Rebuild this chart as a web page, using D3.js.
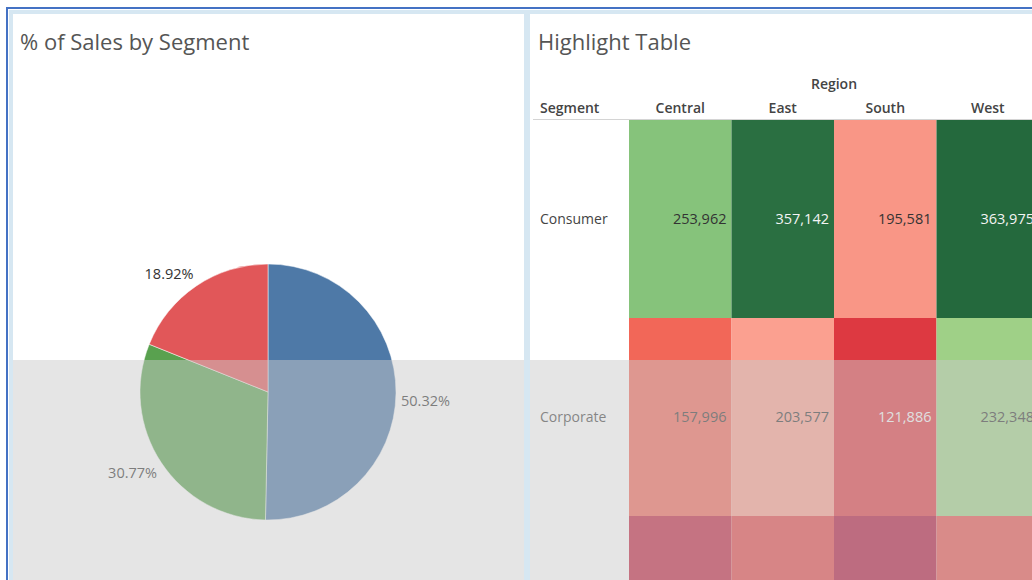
<!DOCTYPE html>
<html lang="en">
<head>
<meta charset="UTF-8">
<title>% of Sales by Segment / Highlight Table</title>
<script src="https://d3js.org/d3.v7.min.js"></script>
<style>
    body { margin: 0; background: #fff; }
    svg { display: block; font-family: "Open Sans", "Noto Sans", sans-serif; }
    .title { font-size: 22px; fill: #555; }
    .hdr { font-size: 14px; font-weight: 600; fill: #444; }
    .rowlbl { font-size: 14px; fill: #444; }
    .num { font-size: 14.5px; }
    .pct { font-size: 14.5px; fill: #333; }
</style>
</head>
<body>
<div id="chart"></div>
<script>
// segment share of sales (pie)
const pieSegments = ["Consumer", "Corporate", "Home Office"];
const pieShares = [50.32, 30.77, 18.92];
const pieColors = ["#4e79a7", "#59a14f", "#e15759"];

// highlight table
const regions = ["Central", "East", "South", "West"];
const segments = ["Consumer", "Corporate", "Home Office"];
const salesConsumer = [253962, 357142, 195581, 363975];
const salesCorporate = [157996, 203577, 121886, 232348];
const salesHomeOffice = [93000, 131000, 76000, 140000]; // row is off-screen, estimated

const width = 1032, height = 580;

const svg = d3.select("#chart").append("svg")
    .attr("width", width)
    .attr("height", height);

// ---- frame
svg.append("rect").attr("x", 9).attr("y", 10).attr("width", width - 9).attr("height", 4).attr("fill", "#d6e7f2");
svg.append("rect").attr("x", 9).attr("y", 10).attr("width", 4).attr("height", height - 10).attr("fill", "#d6e7f2");

// ---- left panel: pie
svg.append("text").attr("class", "title").attr("x", 20).attr("y", 50).text("% of Sales by Segment");

const cx = 268, cy = 392, radius = 128;
const pie = d3.pie().sort(null).value(d => d.value);
const arcs = pie(pieSegments.map((s, i) => ({ name: s, value: pieShares[i], color: pieColors[i] })));
const arc = d3.arc().innerRadius(0).outerRadius(radius);
const labelArc = d3.arc().innerRadius(radius + 5).outerRadius(radius + 5);

const pieG = svg.append("g").attr("transform", `translate(${cx},${cy})`);
pieG.selectAll("path")
    .data(arcs)
    .enter()
    .append("path")
    .attr("d", arc)
    .attr("fill", d => d.data.color)
    .attr("stroke", "#fff")
    .attr("stroke-width", 0.5);

// label sits with its near corner at the slice edge
pieG.selectAll("text")
    .data(arcs)
    .enter()
    .append("text")
    .attr("class", "pct")
    .attr("x", d => labelArc.centroid(d)[0])
    .attr("y", d => {
        const p = labelArc.centroid(d);
        return p[1] < 0 ? p[1] - 3 : p[1] + 13;
    })
    .attr("text-anchor", d => labelArc.centroid(d)[0] > 0 ? "start" : "end")
    .text(d => d.data.value.toFixed(2) + "%");

// ---- right panel: highlight table
svg.append("text").attr("class", "title").attr("x", 538).attr("y", 50).text("Highlight Table");

const tableRows = [salesConsumer, salesCorporate, salesHomeOffice];
const cells = [];
tableRows.forEach((row, r) => row.forEach((v, c) => cells.push({ seg: segments[r], region: regions[c], value: v })));

const x = d3.scaleBand().domain(regions).range([629, 1039]);
const y = d3.scaleBand().domain(segments).range([120, 714]);

const ext = d3.extent(cells, d => d.value);
const stops = [0, 0.17, 0.3, 0.45, 0.55, 1].map(t => ext[0] + t * (ext[1] - ext[0]));
const color = d3.scaleLinear()
    .domain(stops)
    .range(["#b0133a", "#e03c42", "#f46d5b", "#fba393", "#98d386", "#24693d"])
    .clamp(true);

svg.append("text").attr("class", "hdr").attr("x", (x.range()[0] + x.range()[1]) / 2).attr("y", 89)
    .attr("text-anchor", "middle").text("Region");
svg.append("text").attr("class", "hdr").attr("x", 540).attr("y", 113).text("Segment");
svg.selectAll(".colhdr")
    .data(regions)
    .enter()
    .append("text")
    .attr("class", "hdr colhdr")
    .attr("x", d => x(d) + x.bandwidth() / 2)
    .attr("y", 113)
    .attr("text-anchor", "middle")
    .text(d => d);
svg.append("line").attr("x1", 533).attr("x2", width).attr("y1", 119.5).attr("y2", 119.5)
    .attr("stroke", "#d4d4d4").attr("stroke-width", 1);

svg.selectAll(".cell")
    .data(cells)
    .enter()
    .append("rect")
    .attr("class", "cell")
    .attr("x", d => x(d.region))
    .attr("y", d => y(d.seg))
    .attr("width", x.bandwidth())
    .attr("height", y.bandwidth())
    .attr("fill", d => color(d.value));

// only labels that fall inside the visible window
const visible = d => y(d.seg) + y.bandwidth() / 2 < height;

svg.selectAll(".num")
    .data(cells.filter(visible))
    .enter()
    .append("text")
    .attr("class", "num")
    .attr("x", d => x(d.region) + x.bandwidth() - 5)
    .attr("y", d => y(d.seg) + y.bandwidth() / 2 + 5)
    .attr("text-anchor", "end")
    .attr("fill", d => d3.lab(color(d.value)).l < 57 ? "#f4f4f4" : "#333")
    .text(d => d3.format(",")(d.value));

svg.selectAll(".rowlbl")
    .data(segments.filter(s => visible({ seg: s })))
    .enter()
    .append("text")
    .attr("class", "rowlbl")
    .attr("x", 540)
    .attr("y", d => y(d) + y.bandwidth() / 2 + 5)
    .text(d => d);

// ---- grey selection overlay over the lower half
svg.append("rect").attr("x", 13).attr("y", 360).attr("width", width - 13).attr("height", height - 360)
    .attr("fill", "#cacaca").attr("opacity", 0.49);

// panel separator and outer blue border on top
svg.append("rect").attr("x", 524).attr("y", 10).attr("width", 6).attr("height", height - 10).attr("fill", "#d6e7f2");
svg.append("rect").attr("x", 6).attr("y", 7).attr("width", width - 6).attr("height", 2).attr("fill", "#4472c4");
svg.append("rect").attr("x", 6).attr("y", 7).attr("width", 2).attr("height", height - 7).attr("fill", "#4472c4");
</script>
</body>
</html>
